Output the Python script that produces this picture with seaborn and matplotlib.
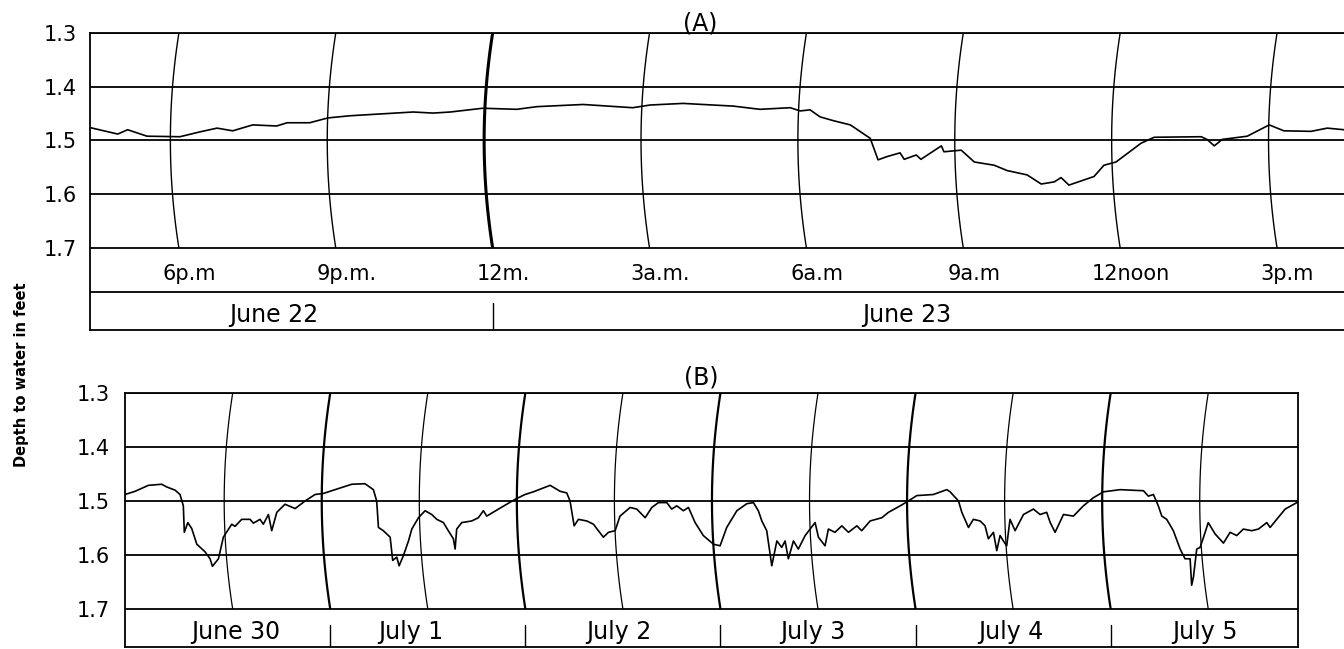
import numpy as np
import pandas as pd
import matplotlib
matplotlib.use("Agg")
import matplotlib.pyplot as plt
import seaborn as sns

# ---------------- data ----------------
# Panel (A): hours after 00:00 June 22, depth to water (ft)
a_hours = [16.30, 16.83, 17.02, 17.39, 18.02, 18.40, 18.73, 19.03, 19.41, 19.87,
           20.07, 20.50, 20.85, 21.27, 22.48, 22.86, 23.19, 23.81, 24.46, 24.85,
           25.73, 26.68, 27.01, 27.64, 28.60, 29.11, 29.69, 29.88, 30.07, 30.26,
           30.51, 30.84, 31.22, 31.37, 31.54, 31.79, 31.87, 32.10, 32.19, 32.58,
           32.63, 32.96, 33.21, 33.59, 33.84, 34.22, 34.49, 34.74, 34.87, 35.02,
           35.50, 35.69, 35.92, 36.40, 36.65, 37.55, 37.66, 37.80, 37.95, 38.43,
           38.85, 39.13, 39.65, 39.96, 40.28]
a_depth = [1.476, 1.488, 1.480, 1.492, 1.493, 1.484, 1.477, 1.482, 1.471, 1.473,
           1.467, 1.467, 1.458, 1.454, 1.447, 1.449, 1.447, 1.440, 1.442, 1.437,
           1.433, 1.439, 1.434, 1.431, 1.436, 1.442, 1.439, 1.445, 1.443, 1.456,
           1.463, 1.471, 1.496, 1.536, 1.530, 1.523, 1.535, 1.527, 1.535, 1.510,
           1.521, 1.518, 1.540, 1.546, 1.556, 1.564, 1.581, 1.577, 1.569, 1.583,
           1.567, 1.546, 1.540, 1.505, 1.494, 1.493, 1.498, 1.510, 1.498, 1.492,
           1.471, 1.482, 1.483, 1.477, 1.480]
a_time_ticks = [18, 21, 24, 27, 30, 33, 36, 39]
a_time_labels = ["6p.m", "9p.m.", "12m.", "3a.m.", "6a.m", "9a.m", "12noon", "3p.m"]
a_dates = ["June 22", "June 23"]

# Panel (B): days after 00:00 June 30, depth to water (ft)
b_days = [-0.052, 0.000, 0.068, 0.136, 0.162, 0.205, 0.230, 0.247, 0.252, 0.270,
          0.290, 0.316, 0.358, 0.384, 0.396, 0.427, 0.452, 0.495, 0.512, 0.546,
          0.589, 0.606, 0.640, 0.657, 0.683, 0.700, 0.726, 0.768, 0.820, 0.871,
          0.922, 0.965, 1.025, 1.110, 1.178, 1.221, 1.238, 1.247, 1.272, 1.307,
          1.320, 1.341, 1.353, 1.375, 1.401, 1.418, 1.452, 1.486, 1.520, 1.546,
          1.580, 1.605, 1.631, 1.640, 1.648, 1.674, 1.725, 1.759, 1.785, 1.802,
          1.862, 1.947, 1.998, 2.041, 2.127, 2.178, 2.212, 2.229, 2.250, 2.272,
          2.315, 2.349, 2.374, 2.400, 2.426, 2.460, 2.485, 2.537, 2.571, 2.614,
          2.648, 2.682, 2.725, 2.750, 2.776, 2.810, 2.836, 2.870, 2.912, 2.964,
          2.998, 3.032, 3.084, 3.135, 3.169, 3.194, 3.212, 3.237, 3.263, 3.289,
          3.314, 3.331, 3.348, 3.374, 3.399, 3.434, 3.485, 3.502, 3.536, 3.553,
          3.587, 3.622, 3.656, 3.699, 3.724, 3.767, 3.827, 3.861, 3.921, 3.963,
          4.006, 4.091, 4.160, 4.177, 4.220, 4.237, 4.271, 4.296, 4.331, 4.356,
          4.373, 4.399, 4.416, 4.433, 4.450, 4.467, 4.484, 4.510, 4.553, 4.604,
          4.638, 4.672, 4.690, 4.715, 4.758, 4.809, 4.860, 4.911, 4.963, 5.048,
          5.168, 5.193, 5.219, 5.244, 5.262, 5.287, 5.321, 5.356, 5.381, 5.407,
          5.415, 5.424, 5.441, 5.458, 5.476, 5.500, 5.535, 5.578, 5.612, 5.646,
          5.680, 5.723, 5.757, 5.800, 5.817, 5.851, 5.894, 5.954]
b_depth = [1.488, 1.482, 1.471, 1.469, 1.474, 1.480, 1.488, 1.509, 1.558, 1.540,
           1.551, 1.580, 1.594, 1.607, 1.621, 1.607, 1.567, 1.543, 1.547, 1.534,
           1.534, 1.541, 1.534, 1.543, 1.525, 1.555, 1.521, 1.506, 1.514, 1.500,
           1.488, 1.486, 1.479, 1.469, 1.468, 1.479, 1.500, 1.549, 1.555, 1.567,
           1.610, 1.604, 1.620, 1.601, 1.574, 1.552, 1.531, 1.518, 1.525, 1.534,
           1.540, 1.555, 1.570, 1.589, 1.552, 1.540, 1.537, 1.531, 1.518, 1.528,
           1.515, 1.497, 1.488, 1.483, 1.471, 1.482, 1.485, 1.500, 1.546, 1.534,
           1.537, 1.543, 1.555, 1.567, 1.558, 1.555, 1.528, 1.512, 1.515, 1.531,
           1.512, 1.503, 1.503, 1.515, 1.509, 1.518, 1.512, 1.540, 1.564, 1.580,
           1.583, 1.549, 1.518, 1.505, 1.503, 1.518, 1.537, 1.555, 1.620, 1.574,
           1.586, 1.574, 1.607, 1.574, 1.589, 1.564, 1.540, 1.567, 1.583, 1.552,
           1.558, 1.546, 1.558, 1.546, 1.555, 1.537, 1.531, 1.521, 1.509, 1.500,
           1.490, 1.488, 1.479, 1.483, 1.500, 1.521, 1.549, 1.534, 1.537, 1.546,
           1.570, 1.558, 1.592, 1.564, 1.574, 1.583, 1.534, 1.555, 1.525, 1.515,
           1.525, 1.521, 1.540, 1.558, 1.525, 1.528, 1.509, 1.494, 1.483, 1.479,
           1.481, 1.491, 1.488, 1.509, 1.528, 1.534, 1.555, 1.589, 1.607, 1.607,
           1.656, 1.641, 1.589, 1.586, 1.567, 1.540, 1.561, 1.578, 1.558, 1.564,
           1.552, 1.555, 1.552, 1.540, 1.549, 1.534, 1.515, 1.503]
b_dates = ["June 30", "July 1", "July 2", "July 3", "July 4", "July 5"]

depth_ticks = [1.3, 1.4, 1.5, 1.6, 1.7]
depth_labels = ["1.3", "1.4", "1.5", "1.6", "1.7"]

# ---------------- style / layout ----------------
sns.set_theme(style="white")
plt.rcParams['font.family'] = ['DejaVu Sans']

W, H = 1344, 649
fig = plt.figure(figsize=(W / 100, H / 100), dpi=100)
fig.patch.set_facecolor("white")

axA = fig.add_axes([90 / W, (H - 330) / H, (W - 90) / W, (330 - 33) / H])
axB = fig.add_axes([125 / W, (H - 647) / H, (1298 - 125) / W, (647 - 393) / H])

LW = 1.3
FS = 15
FS_DATE = 17


def frame(ax, xlim, ybottom, pad, right=True):
    ax.set_xlim(*xlim)
    ax.set_ylim(ybottom, 1.3)
    ax.set_xticks([])
    ax.set_yticks(depth_ticks)
    ax.set_yticklabels(depth_labels, fontsize=FS, color="black")
    ax.tick_params(axis="y", length=0, pad=pad)
    ax.yaxis.grid(True, color="black", linewidth=LW)
    ax.xaxis.grid(False)
    ax.set_xlabel("")
    ax.set_ylabel("")
    for side, sp in ax.spines.items():
        sp.set_color("black")
        sp.set_linewidth(LW)
    ax.spines["right"].set_visible(right)


def arc(ax, t0, bulge, lw):
    ys = np.linspace(1.3, 1.7, 60)
    xs = t0 - bulge * (1 - ((ys - 1.5) / 0.2) ** 2)
    ax.plot(xs, ys, color="black", linewidth=lw, solid_capstyle="butt", zorder=3)


# ---- Panel A ----
dfA = pd.DataFrame({"hours": a_hours, "depth": a_depth})
sns.lineplot(data=dfA, x="hours", y="depth", ax=axA, color="black", linewidth=1.2, zorder=4)
frame(axA, (16.30, 40.28), 1.8526, 9.4, right=False)
for t in a_time_ticks:
    arc(axA, t, 0.163, 2.2 if t % 24 == 0 else 1.0)
for t, lab in zip(a_time_ticks, a_time_labels):
    axA.text(t + 0.2, 1.7595, lab, ha="center", va="baseline", fontsize=FS, color="black")
axA.axhline(1.7819, color="black", linewidth=LW)
axA.plot([24, 24], [1.8023, 1.8526], color="black", linewidth=1.0)
axA.text(19.82, 1.8377, a_dates[0], ha="center", va="baseline", fontsize=FS_DATE, color="black")
axA.text(31.92, 1.8377, a_dates[1], ha="center", va="baseline", fontsize=FS_DATE, color="black")

# ---- Panel B ----
dfB = pd.DataFrame({"days": b_days, "depth": b_depth})
sns.lineplot(data=dfB, x="days", y="depth", ax=axB, color="black", linewidth=1.2, zorder=4)
frame(axB, (-0.052, 5.96), 1.7704, 10.8, right=True)
for k in range(1, 12):
    t = k * 0.5
    arc(axB, t, 0.0436, 1.6 if k % 2 == 0 else 0.9)
for d in range(1, 6):
    axB.plot([d, d], [1.7296, 1.7704], color="black", linewidth=1.0)
b_label_x = [0.517, 1.414, 2.480, 3.474, 4.489, 5.484]
for x, lab in zip(b_label_x, b_dates):
    axB.text(x, 1.7560, lab, ha="center", va="baseline", fontsize=FS_DATE, color="black")

# ---- titles and axis label ----
fig.text(700 / W, 1 - 24 / H, "(A)", ha="center", va="center", fontsize=17, color="black")
fig.text(701 / W, 1 - 377 / H, "(B)", ha="center", va="center", fontsize=17, color="black")
fig.text(22 / W, 1 - 375 / H, "Depth to water in feet", rotation=90, ha="center",
         va="center", fontsize=10.5, fontweight="bold", color="black")

fig.savefig("out.png", dpi=100, facecolor="white")
